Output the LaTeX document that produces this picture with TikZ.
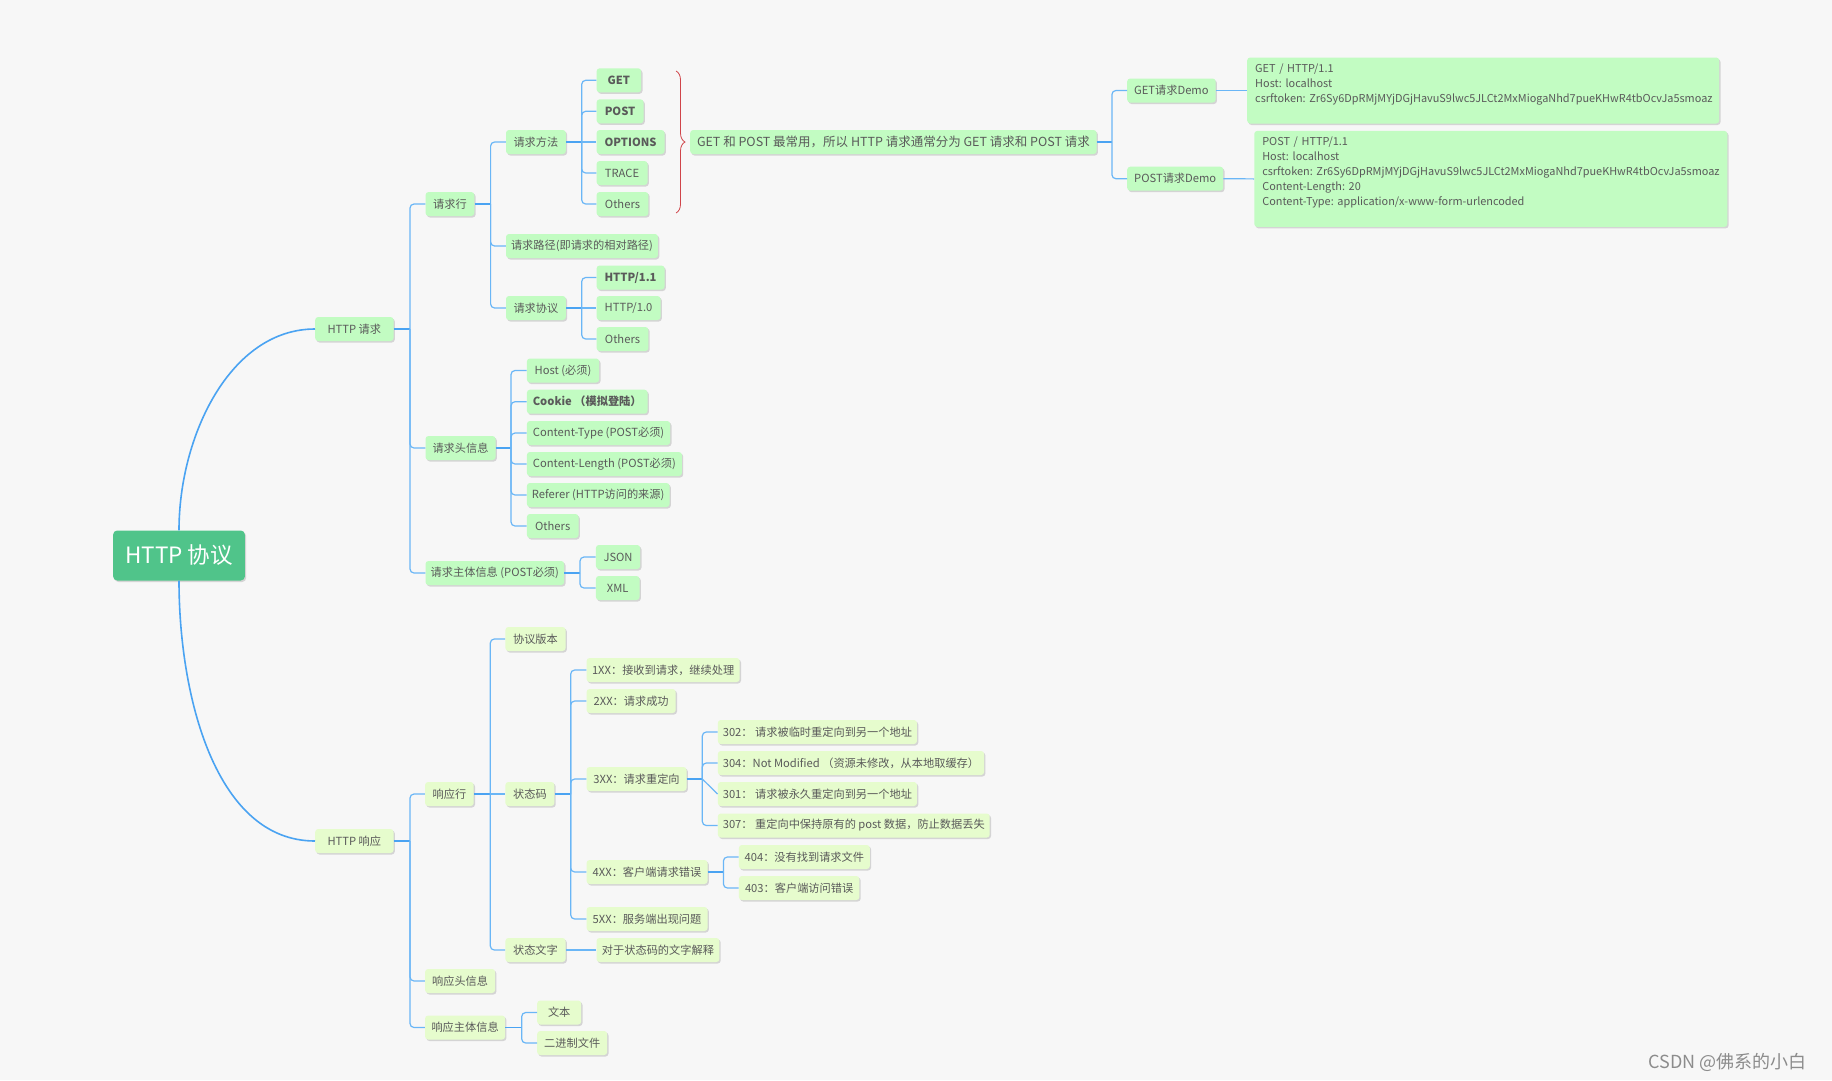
\documentclass[tikz,border=0pt]{standalone}
\usepackage{fontspec}
\setmainfont{Noto Sans CJK SC}
\usetikzlibrary{decorations.pathreplacing,calc}
\definecolor{bg}{HTML}{F7F7F7}
\definecolor{rootc}{HTML}{50C48A}
\definecolor{reqc}{HTML}{C2FCC2}
\definecolor{resc}{HTML}{E6FCCD}
\definecolor{txt}{HTML}{5A5A5A}
\definecolor{lnk}{HTML}{6AB6F6}
\definecolor{lnk2}{HTML}{4AA3F2}
\definecolor{shd}{HTML}{D4D4D4}
\definecolor{brc}{HTML}{D0454A}
\begin{document}
\frenchspacing
\begin{tikzpicture}[x=1pt,y=-1pt,
 base/.style={rounded corners=3pt, minimum height=24pt, inner xsep=5pt, inner ysep=0pt,
   text=txt, font=\fontsize{11.2}{14}\selectfont, anchor=west,
   preaction={fill=shd, transform canvas={xshift=1.3pt,yshift=-1.5pt}}},
 rq/.style={base, fill=reqc},
 rs/.style={base, fill=resc},
 bld/.style={font=\fontsize{11.2}{14}\selectfont\bfseries},
 demo/.style={rq, anchor=north west, align=left, inner xsep=8pt, inner ysep=3pt,
   font=\fontsize{10.9}{15}\selectfont},
 br/.style={draw=lnk, line width=1.2pt, rounded corners=4pt},
 stub/.style={draw=lnk2, line width=1.9pt},
 mainc/.style={draw=lnk2, line width=1.6pt},
]
\useasboundingbox (0,0) rectangle (1832,1080);
\fill[bg] (0,0) rectangle (1832,1080);

% root
\node[rounded corners=4pt, fill=rootc, text=white, minimum width=131.7pt, minimum height=50pt,
  font=\fontsize{22.5}{24}\selectfont,
  preaction={fill=shd, transform canvas={xshift=1.3pt,yshift=-1.5pt}}] (root) at (179,555.5) {HTTP 协议};

% level 1
\node[rq, minimum width=78.3pt] (req) at (315,329) {HTTP 请求};
\node[rs, minimum width=78.3pt] (resp) at (315,841) {HTTP 响应};

% request side
\node[rq, minimum width=48.7pt] (qh) at (425.4,204) {请求行};
\node[rq, minimum width=59.8pt] (qm) at (505.8,142) {请求方法};
\node[rq, bld, minimum width=44.6pt] (get) at (596.4,80.3) {GET};
\node[rq, bld, minimum width=46.9pt] (post) at (596.4,111.3) {POST};
\node[rq, bld, minimum width=67.9pt] (options) at (596.4,142) {OPTIONS};
\node[rq, minimum width=50.9pt] (trace) at (596.4,173) {TRACE};
\node[rq, minimum width=51.8pt] (oth1) at (596.4,204) {Others};
\node[rq, minimum width=150pt] (path) at (505.8,246) {请求路径(即请求的相对路径)};
\node[rq, minimum width=59.8pt] (proto) at (505.8,308) {请求协议};
\node[rq, bld, minimum width=67.9pt] (h11) at (596.4,277.5) {HTTP/1.1};
\node[rq, minimum width=63.9pt] (h10) at (596.4,308) {HTTP/1.0};
\node[rq, minimum width=51.8pt] (oth2) at (596.4,339) {Others};

\node[rq, minimum width=406.4pt, font=\fontsize{12.5}{14}\selectfont] (note) at (690,142)
  {GET 和 POST 最常用，所以 HTTP 请求通常分为 GET 请求和 POST 请求};
\node[rq, minimum width=88.4pt] (gdemo) at (1127,90.5) {GET请求Demo};
\node[rq, minimum width=96pt] (pdemo) at (1127,178.7) {POST请求Demo};
\node[demo, text width=456pt, minimum height=66pt] (gbox) at (1247,57.3)
  {GET / HTTP/1.1\\Host: localhost\\csrftoken: Zr6Sy6DpRMjMYjDGjHavuS9lwc5JLCt2MxMiogaNhd7pueKHwR4tbOcvJa5smoaz\\\mbox{}};
\node[demo, text width=457pt, minimum height=96pt] (pbox) at (1254.1,130.7)
  {POST / HTTP/1.1\\Host: localhost\\csrftoken: Zr6Sy6DpRMjMYjDGjHavuS9lwc5JLCt2MxMiogaNhd7pueKHwR4tbOcvJa5smoaz\\Content-Length: 20\\Content-Type: application/x-www-form-urlencoded\\\mbox{}};

\node[rq, minimum width=70pt] (qhd) at (425.3,448) {请求头信息};
\node[rq, minimum width=72.3pt] (host) at (526.7,370.5) {Host (必须)};
\node[rq, bld, minimum width=120.6pt] (cookie) at (526.7,401.7) {Cookie （模拟登陆）};
\node[rq, minimum width=143.3pt] (ctype) at (526.7,433) {Content-Type (POST必须)};
\node[rq, minimum width=155pt] (clen) at (526.7,464) {Content-Length (POST必须)};
\node[rq, minimum width=142.6pt] (ref) at (526.7,495) {Referer (HTTP访问的来源)};
\node[rq, minimum width=51.6pt] (oth3) at (526.7,526) {Others};
\node[rq, minimum width=138.7pt] (qbody) at (425.3,573) {请求主体信息 (POST必须)};
\node[rq, minimum width=44.3pt] (json) at (595.7,557) {JSON};
\node[rq, minimum width=43.6pt] (xml) at (595.7,588) {XML};

% response side
\node[rs, minimum width=48.6pt] (rl) at (424.9,794) {响应行};
\node[rs, minimum width=60.1pt] (ver) at (505.2,639) {协议版本};
\node[rs, minimum width=49pt] (sc) at (505.2,794) {状态码};
\node[rs, minimum width=153.1pt] (c1) at (586.4,670) {1XX：接收到请求，继续处理};
\node[rs, minimum width=89.1pt] (c2) at (586.4,701) {2XX：请求成功};
\node[rs, minimum width=99.9pt] (c3) at (586.4,779) {3XX：请求重定向};
\node[rs, minimum width=196.4pt] (c302) at (717.6,732) {302： 请求被临时重定向到另一个地址};
\node[rs, minimum width=264.9pt] (c304) at (717.6,763) {304：Not Modified （资源未修改，从本地取缓存）};
\node[rs, minimum width=196.4pt] (c301) at (717.6,794) {301： 请求被永久重定向到另一个地址};
\node[rs, minimum width=267.9pt] (c307) at (717.6,825.5) {307： 重定向中保持原有的 post 数据，防止数据丢失};
\node[rs, minimum width=120.9pt] (c4) at (586.4,872) {4XX：客户端请求错误};
\node[rs, minimum width=130.9pt] (c404) at (738.7,857) {404：没有找到请求文件};
\node[rs, minimum width=120.5pt] (c403) at (738.7,888) {403：客户端访问错误};
\node[rs, minimum width=120.9pt] (c5) at (586.4,919) {5XX：服务端出现问题};
\node[rs, minimum width=60.1pt] (st) at (505.2,950) {状态文字};
\node[rs, minimum width=122.9pt] (stx) at (596.3,950) {对于状态码的文字解释};
\node[rs, minimum width=70pt] (rh) at (424.9,981) {响应头信息};
\node[rs, minimum width=80pt] (rb) at (424.9,1027.5) {响应主体信息};
\node[rs, minimum width=44pt] (wb) at (537,1012.5) {文本};
\node[rs, minimum width=70pt] (bin) at (537,1043) {二进制文件};

% watermark
\node[anchor=west, text=black!45, font=\fontsize{18}{20}\selectfont] (wm) at (1645,1062) {CSDN @佛系的小白};

% curves from root
\draw[mainc] (root.north) .. controls +(0,-94) and +(-85,0) .. (req.west);
\draw[mainc] (root.south) .. controls +(0,114) and +(-100,0) .. (resp.west);

% trunk coordinates
\coordinate (t-req) at (410,329);
\coordinate (t-qh) at (490.6,204);
\coordinate (t-qm) at (581.7,142);
\coordinate (t-proto) at (581.7,308);
\coordinate (t-qhd) at (511,448);
\coordinate (t-qbody) at (580,573);
\coordinate (t-note) at (1111.9,142);
\coordinate (t-resp) at (410,841);
\coordinate (t-rl) at (490.3,794);
\coordinate (t-sc) at (570.7,794);
\coordinate (t-c3) at (702.3,779);
\coordinate (t-c4) at (723.4,872);
\coordinate (t-rb) at (521.7,1027.5);

% stubs
\foreach \p in {req,qh,qm,proto,qhd,qbody,note,resp,rl,sc,c3,c4,rb}
  \draw[stub] (\p.east) -- (t-\p);

% branches
\foreach \c in {qh,qhd,qbody} \draw[br] (t-req) |- (\c.west);
\foreach \c in {qm,path,proto} \draw[br] (t-qh) |- (\c.west);
\foreach \c in {get,post,trace,oth1} \draw[br] (t-qm) |- (\c.west);
\draw[br] (t-qm) -- (options.west);
\foreach \c in {h11,oth2} \draw[br] (t-proto) |- (\c.west);
\draw[br] (t-proto) -- (h10.west);
\foreach \c in {host,cookie,ctype,clen,ref,oth3} \draw[br] (t-qhd) |- (\c.west);
\foreach \c in {json,xml} \draw[br] (t-qbody) |- (\c.west);
\foreach \c in {gdemo,pdemo} \draw[br] (t-note) |- (\c.west);
\draw[br] (gdemo.east) -- (gbox.west);
\draw[br] (pdemo.east) -- (pbox.west);

\foreach \c in {rl,rh,rb} \draw[br] (t-resp) |- (\c.west);
\foreach \c in {ver,st} \draw[br] (t-rl) |- (\c.west);
\draw[br] (t-rl) -- (sc.west);
\foreach \c in {c1,c2,c3,c4,c5} \draw[br] (t-sc) |- (\c.west);
\foreach \c in {c302,c304,c307} \draw[br] (t-c3) |- (\c.west);
\draw[br] (t-c3) -- (c301.west);
\foreach \c in {c404,c403} \draw[br] (t-c4) |- (\c.west);
\draw[br] (st.east) -- (stx.west);
\foreach \c in {wb,bin} \draw[br] (t-rb) |- (\c.west);

% brace
\draw[brc, line width=0.8pt, decorate, decoration={brace, amplitude=9pt}] (676,71) -- (676,213);
\end{tikzpicture}
\end{document}
